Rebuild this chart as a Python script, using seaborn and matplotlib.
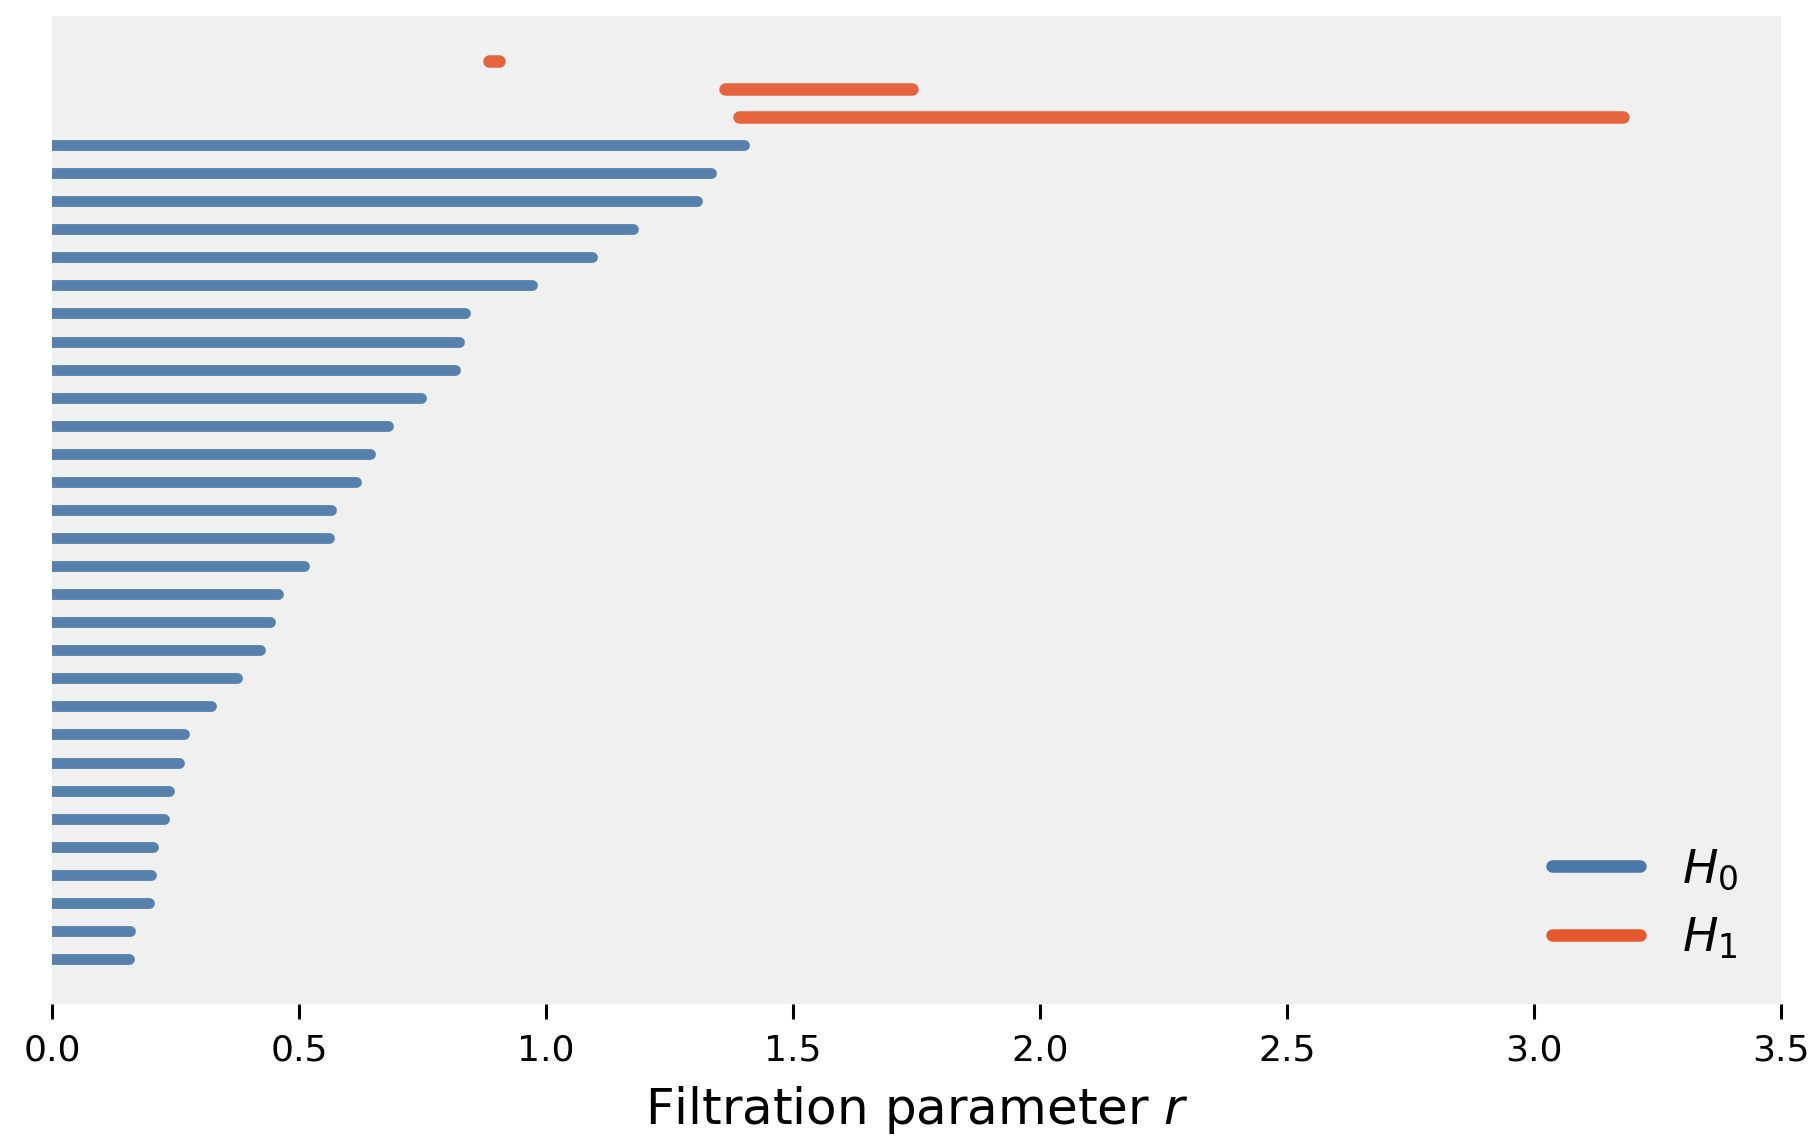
import pandas as pd
import matplotlib.pyplot as plt
import seaborn as sns
from matplotlib.lines import Line2D

# Данные: времена рождения/смерти для H0 и H1 (снизу вверх)
h0_birth = [0.0] * 30
h0_death = [0.155, 0.157, 0.197, 0.201, 0.204, 0.227, 0.237, 0.258, 0.267, 0.321,
            0.375, 0.422, 0.441, 0.457, 0.511, 0.561, 0.565, 0.615, 0.643, 0.681,
            0.746, 0.815, 0.824, 0.836, 0.972, 1.094, 1.176, 1.305, 1.334, 1.401]
h1_birth = [1.391, 1.362, 0.885]
h1_death = [3.180, 1.740, 0.905]

blue = '#4a78a8'
orange = '#e5582f'

# Длинная таблица: по две точки на каждый интервал
rows = []
for i, (b, d) in enumerate(zip(h0_birth, h0_death)):
    rows += [dict(r=b, bar=i, dim='H0'), dict(r=d, bar=i, dim='H0')]
n0 = len(h0_death)
for j, (b, d) in enumerate(zip(h1_birth, h1_death)):
    rows += [dict(r=b, bar=n0 + j, dim='H1'), dict(r=d, bar=n0 + j, dim='H1')]
df = pd.DataFrame(rows)
n_bars = df['bar'].nunique()

sns.set_style('white', {'axes.facecolor': '#f0f0f0', 'text.color': 'black',
                        'xtick.color': 'black', 'axes.labelcolor': 'black'})
fig, ax = plt.subplots(figsize=(9.09, 5.69), dpi=200)
fig.subplots_adjust(left=0.0286, right=0.9797, top=0.986, bottom=0.1178)

sns.lineplot(data=df[df['dim'] == 'H0'], x='r', y='bar', units='bar', estimator=None,
             sort=False, color=blue, alpha=0.92, linewidth=3.9,
             solid_capstyle='round', ax=ax, legend=False)
sns.lineplot(data=df[df['dim'] == 'H1'], x='r', y='bar', units='bar', estimator=None,
             sort=False, color=orange, alpha=0.92, linewidth=4.5,
             solid_capstyle='round', ax=ax, legend=False)

ax.set_xlim(0, 3.5)
ax.set_ylim(-1.6, n_bars - 1 + 1.6)
ax.set_yticks([])
ax.set_ylabel('')
ax.set_xlabel('Filtration parameter $r$', fontsize=18, labelpad=6)
ax.tick_params(axis='x', bottom=True, length=5.5, width=1.1, pad=5, labelsize=13,
               colors='black')
for s in ax.spines.values():
    s.set_visible(False)

handles = [Line2D([], [], color=blue, linewidth=4.5, solid_capstyle='round'),
           Line2D([], [], color=orange, linewidth=4.5, solid_capstyle='round')]
ax.legend(handles, ['$H_0$', '$H_1$'], loc='lower right', frameon=False,
          fontsize=17, handlelength=1.85, handletextpad=0.9, labelspacing=0.5)

plt.savefig('out.png', dpi=200)
